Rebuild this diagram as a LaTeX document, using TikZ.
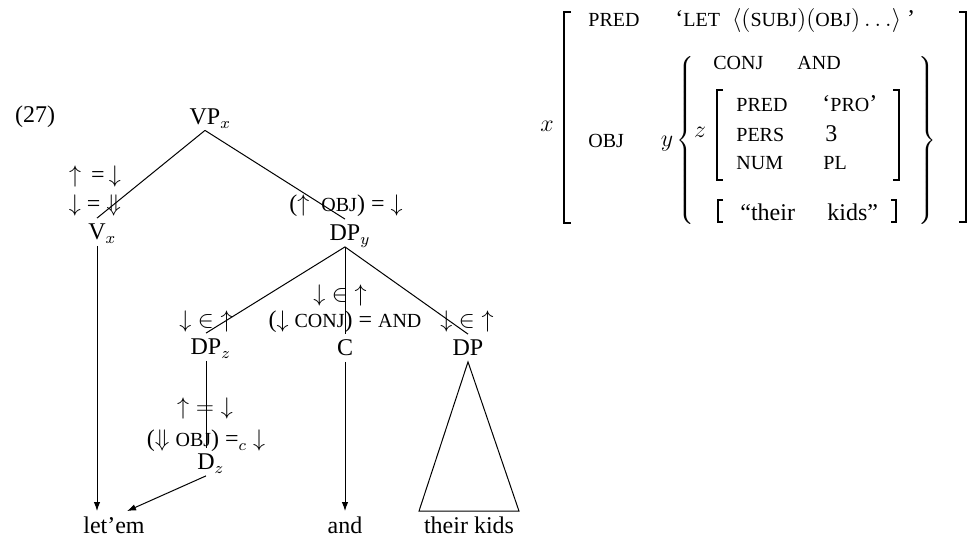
\documentclass[tikz,border=0pt]{standalone}
\usepackage{fontspec}
\setmainfont{Liberation Serif}
\usetikzlibrary{arrows.meta,calc}
\newcommand\smc[1]{{\fontsize{10}{12}\selectfont #1}}
\begin{document}
\begin{tikzpicture}[x=0.5pt,y=-0.5pt, font=\fontsize{12}{14.4}\selectfont,
  tn/.style={inner sep=2.75pt, text height=8pt, text depth=0pt},
  lab/.style={inner sep=0pt},
  edge/.style={line width=0.5pt},
  arr/.style={edge,-{Latex[length=4.5pt,width=3.2pt]}},
  av/.style={inner sep=0pt, anchor=base west},
  mv/.style={inner sep=0pt, anchor=base},
  brk/.style={line width=0.8pt}]
\useasboundingbox (0,0) rectangle (969,539);

% tree nodes
\node[tn] (vp) at (205,116.5) {VP\rlap{$_x$}};
\node[tn] (vx) at (97,232) {V\rlap{$_x$}};
\node[tn] (dpy) at (345,233) {DP\rlap{$_y$}};
\node[tn] (dpz) at (206,347) {DP\rlap{$_z$}};
\node[tn] (c) at (345,348) {C};
\node[tn] (dp) at (468,348) {DP};
\node[tn] (dz) at (206,462) {D\rlap{$_z$}};
\node[tn] (letem) at (114,525) {let’em};
\node[tn] (and) at (345,525) {and};
\node[tn] (tk) at (469,525) {their kids};

% edges
\draw[edge] (vp.south) -- (vx.north);
\draw[edge] (vp.south) -- (dpy.north);
\draw[edge] (dpy.south) -- (dpz.north);
\draw[edge] (dpy.south) -- (c.north);
\draw[edge] (dpy.south) -- (dp.north);
\draw[edge] (dpz.south) -- (dz.north);
\draw[arr] (vx.south) -- (vx.south |- letem.north);
\draw[arr] (dz.south) -- ($(letem.north)+(13,0)$);
\draw[arr] (c.south) -- (and.north);
\draw[edge] (dp.south) -- ($(tk.north)+(-50,0)$) -- ($(tk.north)+(50,0)$) -- cycle;

% annotations
\node[lab] (ex) at (35,117) {(27)};
\node[lab] (l1) at (95,177) {$\uparrow$\ \,=\,$\downarrow$};
\node[lab] (l2) at (95,206) {$\downarrow$ = $\Downarrow$};
\node[lab] (l3) at (346,206) {($\uparrow$\ \ \smc{OBJ}) = $\downarrow$};
\node[lab] (l4) at (340,296) {${\downarrow}\in{\uparrow}$};
\node[lab] (l5) at (345,322) {($\downarrow$ \smc{CONJ}) = \smc{AND}};
\node[lab] (l6) at (206,322) {${\downarrow}\in{\uparrow}$};
\node[lab] (l7) at (467,322) {${\downarrow}\in{\uparrow}$};
\node[lab] (l8) at (205,409) {${\uparrow}={\downarrow}$};
\node[lab] (l9) at (206,441) {($\Downarrow$ \smc{OBJ}) =$_c$ $\downarrow$};

% AVM
\node[mv] (ax) at (547,132) {$x$};
\node[av] (p1) at (588,27) {\smc{PRED}};
\node[av] (p1v) at (675,27) {‘\smc{LET}\ \ $\langle($\smc{SUBJ}$)($\smc{OBJ}$)\ldots\rangle$\ ’};
\node[av] (obj) at (588,148) {\smc{OBJ}};
\node[mv] (ay) at (667,147) {$y$};
\node[av] (conj) at (713,70) {\smc{CONJ}};
\node[av] (and2) at (797,70) {\smc{AND}};
\node[mv] (az) at (700,138) {$z$};
\node[av] (p2) at (736,112) {\smc{PRED}};
\node[av] (pro) at (822,112) {‘\smc{PRO}’};
\node[av] (pers) at (736,142) {\smc{PERS}};
\node[av] (three) at (825,142) {3};
\node[av] (num) at (736,170) {\smc{NUM}};
\node[av] (pl) at (823,170) {\smc{PL}};
\node[av] (th) at (740,221) {“their};
\node[av] (kd) at (827,221) {kids”};

% braces
\node[inner sep=0pt, anchor=west] (lbr) at (676,142) {$\left\{\vrule height 40pt depth 40pt width 0pt\right.$};
\node[inner sep=0pt, anchor=east] (rbr) at (937,142) {$\left.\vrule height 40pt depth 40pt width 0pt\right\}$};

% brackets
\draw[brk] (571,12) -- (564,12) -- (564,223) -- (571,223);
\draw[brk] (959,12) -- (966,12) -- (966,222) -- (959,222);
\draw[brk] (723,90) -- (717,90) -- (717,180) -- (723,180);
\draw[brk] (893,90) -- (899,90) -- (899,180) -- (893,180);
\draw[brk] (723,200) -- (718,200) -- (718,222) -- (723,222);
\draw[brk] (891,200) -- (896,200) -- (896,222) -- (891,222);
\end{tikzpicture}
\end{document}
